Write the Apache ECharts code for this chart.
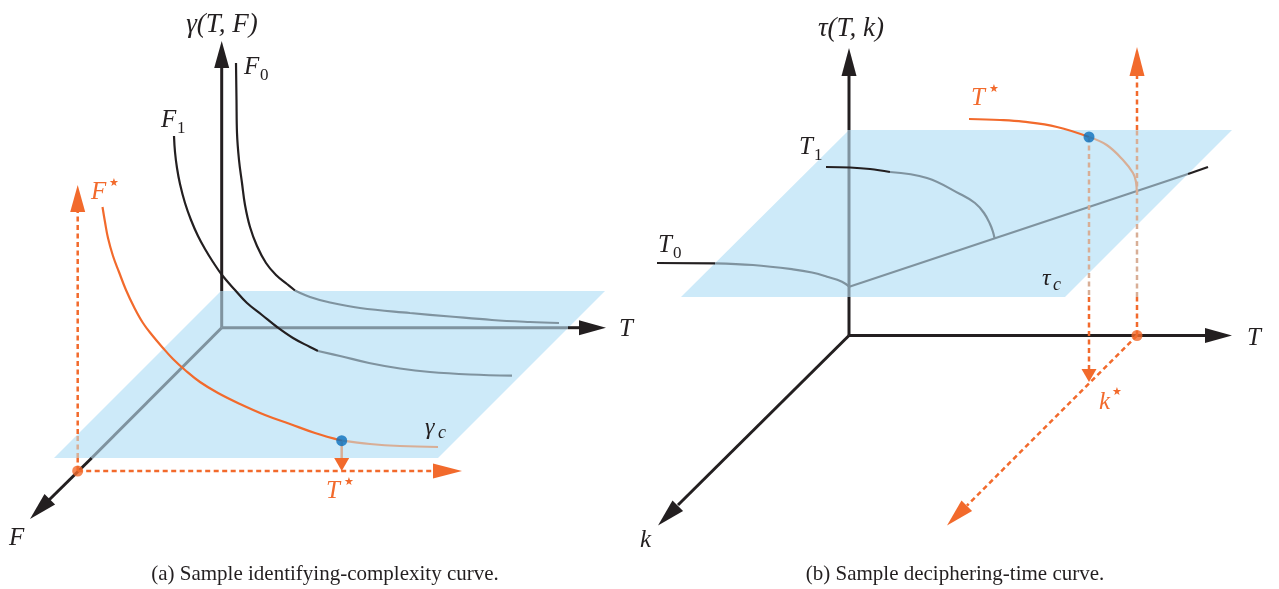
<!DOCTYPE html>
<html>
<head>
<meta charset="utf-8">
<script src="https://cdn.jsdelivr.net/npm/echarts@6/dist/echarts.min.js"></script>
<style>
html, body { margin: 0; padding: 0; background: #fff; }
#main { width: 1279px; height: 589px; }
</style>
</head>
<body>
<div id="main"></div>
<script>
// colours
var BLACK = '#231f20', GRAY = '#7f939f', PLANE = '#cdeaf9';
var ORANGE = '#f26a2c', TAN = '#d8ae96', BLUE = '#0a6fbd';

// ---- panel (a): identifying complexity ----
var planeA = [[221, 291], [605, 291], [438, 458], [54, 458]];
var axisGammaGray = [[221.7, 327.7], [221.7, 291]];
var axisGammaBlack = [[221.7, 291], [221.7, 67]];
var axisTaGray = [[221.7, 327.7], [568, 327.7]];
var axisTaBlack = [[568, 327.7], [580, 327.7]];
var axisFGray = [[221.7, 327.7], [91.7, 458]];
var axisFBlack = [[91.7, 458], [49, 500]];
var curveF0Black = [[236, 63], [236.5, 100], [237, 133], [239, 160], [242, 183], [245, 205], [250, 227], [257, 246], [266, 263], [276, 275], [287, 284], [295, 290.5]];
var curveF0Gray = [[295, 290.5], [310, 297], [328, 302], [360, 308], [410, 313], [450, 316.5], [492, 320], [530, 322], [559, 323]];
var curveF1Black = [[174, 136], [175, 152], [177, 168], [180, 184], [185, 203], [191, 220], [198, 236], [205, 249], [213, 262], [222, 275], [235, 290], [247, 303], [262, 315], [277, 327], [293, 338], [310, 347], [318, 351]];
var curveF1Gray = [[318, 351], [340, 356], [369, 363], [400, 368.5], [430, 372], [470, 374.5], [512, 375.7]];
var curveFStar = [[102.5, 207], [105, 222], [108, 238], [113, 256], [119, 272], [126, 290], [134, 307], [143, 323], [152, 335], [163, 348], [173, 359], [185, 370], [200, 382], [218, 393], [240, 404], [265, 415], [290, 424], [315, 433], [342, 440.7]];
var curveGammaC = [[342, 440.7], [370, 444], [400, 446], [438, 447]];
var dashFUpOrange = [[77.7, 434], [77.7, 212]];
var dashFUpTan = [[77.7, 458], [77.7, 434]];
var dashFUpLow = [[77.7, 471], [77.7, 458]];
var dashTStarA = [[77.7, 471], [433, 471]];
var dropTStarA = [[341.7, 441], [341.7, 458]];

// ---- panel (b): deciphering time ----
var planeB = [[849, 130], [1232, 130], [1065, 297], [681, 297]];
var axisTauLow = [[849, 335.5], [849, 297]];
var axisTauGray = [[849, 297], [849, 130]];
var axisTauHigh = [[849, 130], [849, 76]];
var axisTb = [[849, 335.5], [1206, 335.5]];
var axisK = [[849, 335.5], [678, 505]];
var curveT0Black = [[657, 263], [715, 263.3]];
var curveT0Gray = [[715, 263.3], [753, 265], [793, 269.3], [812, 272.5], [827, 276.7], [842, 281.7], [849.3, 286.7]];
var lineCusp = [[849.3, 286.7], [1188, 174]];
var lineCuspBlack = [[1188, 174], [1208, 167]];
var curveT1Black = [[826, 167], [850, 167.5], [870, 169], [890, 172]];
var curveT1Gray = [[890, 172], [927, 178], [960, 194], [975, 203], [984, 213], [990, 224], [993, 232], [994.5, 238]];
var curveTStar = [[969, 119], [1000, 120], [1023, 121.7], [1057, 127], [1089, 137]];
var curveTauC = [[1089, 137], [1106.7, 145], [1123, 160], [1133, 173], [1136, 182], [1136.7, 190]];
var dashUpLow = [[1137, 335.5], [1137, 297]];
var dashUpTan = [[1137, 297], [1137, 130]];
var dashUpHigh = [[1137, 130], [1137, 76]];
var dashDownTan = [[1089, 137], [1089, 297]];
var dashDownOrange = [[1089, 297], [1089, 369]];
var dashKStar = [[1137, 335.5], [967, 505.5]];

// arrowheads: [baseX, baseY, tipX, tipY]
var arrowsBlack = [
  [221.7, 68, 221.7, 41], [579, 327.7, 606, 327.7], [49.8, 499.2, 30, 519],
  [849, 76, 849, 48], [1205, 335.5, 1232, 335.5], [677.8, 505.7, 658, 525.5]
];
var arrowsOrange = [
  [77.7, 212, 77.7, 185], [433, 471, 462, 471], [341.7, 458, 341.7, 471],
  [1137, 76, 1137, 47], [1089, 369, 1089, 382], [966.8, 505.7, 947, 525.5]
];
var dotsOrange = [[77.7, 471], [1137, 335.5]];
var dotsBlue = [[341.7, 440.7], [1089, 137]];

// text: [text, x, y, colour, size, align]
var labels = [
  ['γ(T, F)', 222, 25, BLACK, 27, 'center'],
  ['F', 244, 67, BLACK, 25, 'left'], ['0', 260, 76, BLACK, 17, 'left'],
  ['F', 161, 120, BLACK, 25, 'left'], ['1', 177, 129, BLACK, 17, 'left'],
  ['F', 91, 192, ORANGE, 25, 'left'], ['★', 109, 183, ORANGE, 11, 'left'],
  ['T', 619, 329, BLACK, 25, 'left'],
  ['F', 9, 538, BLACK, 25, 'left'],
  ['γ', 425, 428, BLACK, 24, 'left'], ['c', 438, 433, BLACK, 18, 'left'],
  ['T', 326, 491, ORANGE, 25, 'left'], ['★', 344, 482, ORANGE, 11, 'left'],
  ['τ(T, k)', 851, 29, BLACK, 27, 'center'],
  ['T', 799, 147, BLACK, 25, 'left'], ['1', 814, 156, BLACK, 17, 'left'],
  ['T', 658, 245, BLACK, 25, 'left'], ['0', 673, 254, BLACK, 17, 'left'],
  ['T', 971, 98, ORANGE, 25, 'left'], ['★', 989, 89, ORANGE, 11, 'left'],
  ['τ', 1042, 279, BLACK, 24, 'left'], ['c', 1053, 285, BLACK, 18, 'left'],
  ['T', 1247, 338, BLACK, 25, 'left'],
  ['k', 640, 540, BLACK, 25, 'left'],
  ['k', 1099, 402, ORANGE, 25, 'left'], ['★', 1112, 392, ORANGE, 11, 'left']
];
var captions = [
  ['(a) Sample identifying-complexity curve.', 325, 574],
  ['(b) Sample deciphering-time curve.', 955, 574]
];

function seg(pts, color, width, dashed, smooth) {
  return {
    type: 'line', data: pts, smooth: smooth ? 0.4 : false, symbol: 'none',
    silent: true, z: 3,
    lineStyle: { color: color, width: width, type: dashed ? [5, 3.5] : 'solid', cap: 'butt' }
  };
}

function arrowSeries(list, color) {
  return {
    type: 'custom', silent: true, z: 5, data: list,
    renderItem: function (params, api) {
      var b = api.coord([api.value(0), api.value(1)]);
      var t = api.coord([api.value(2), api.value(3)]);
      var dx = t[0] - b[0], dy = t[1] - b[1], L = Math.sqrt(dx * dx + dy * dy);
      var nx = -dy / L * 7.5, ny = dx / L * 7.5;
      return {
        type: 'polygon',
        shape: { points: [t, [b[0] + nx, b[1] + ny], [b[0] - nx, b[1] - ny]] },
        style: { fill: color }
      };
    }
  };
}

var planes = [planeA, planeB];
var series = [
  {
    type: 'custom', silent: true, z: 1,
    data: planes.map(function (p) { return [].concat.apply([], p); }),
    renderItem: function (params, api) {
      var pts = [];
      for (var i = 0; i < 4; i++) pts.push(api.coord([api.value(2 * i), api.value(2 * i + 1)]));
      return { type: 'polygon', shape: { points: pts }, style: { fill: PLANE } };
    }
  },
  // panel a
  seg(axisGammaGray, GRAY, 3), seg(axisGammaBlack, BLACK, 3),
  seg(axisTaGray, GRAY, 3), seg(axisTaBlack, BLACK, 3),
  seg(axisFGray, GRAY, 3), seg(axisFBlack, BLACK, 3),
  seg(curveF0Black, BLACK, 2.2, false, true), seg(curveF0Gray, GRAY, 2.2, false, true),
  seg(curveF1Black, BLACK, 2.2, false, true), seg(curveF1Gray, GRAY, 2.2, false, true),
  seg(curveFStar, ORANGE, 2.2, false, true), seg(curveGammaC, TAN, 2.2, false, true),
  seg(dashFUpOrange, ORANGE, 2.5, true), seg(dashFUpTan, TAN, 2.5, true), seg(dashFUpLow, ORANGE, 2.5, true),
  seg(dashTStarA, ORANGE, 2.5, true), seg(dropTStarA, TAN, 2.5),
  // panel b
  seg(axisTauLow, BLACK, 3), seg(axisTauGray, GRAY, 3), seg(axisTauHigh, BLACK, 3),
  seg(axisTb, BLACK, 3), seg(axisK, BLACK, 3),
  seg(curveT0Black, BLACK, 2.2), seg(curveT0Gray, GRAY, 2.2, false, true),
  seg(lineCusp, GRAY, 2.2), seg(lineCuspBlack, BLACK, 2.2),
  seg(curveT1Black, BLACK, 2.2, false, true), seg(curveT1Gray, GRAY, 2.2, false, true),
  seg(curveTStar, ORANGE, 2.2, false, true), seg(curveTauC, TAN, 2.2, false, true),
  seg(dashUpLow, ORANGE, 2.5, true), seg(dashUpTan, TAN, 2.5, true), seg(dashUpHigh, ORANGE, 2.5, true),
  seg(dashDownTan, TAN, 2.5, true), seg(dashDownOrange, ORANGE, 2.5, true),
  seg(dashKStar, ORANGE, 2.5, true),
  arrowSeries(arrowsBlack, BLACK), arrowSeries(arrowsOrange, ORANGE),
  { type: 'scatter', data: dotsOrange, symbolSize: 11, silent: true, z: 6, itemStyle: { color: ORANGE } },
  { type: 'scatter', data: dotsBlue, symbolSize: 11, silent: true, z: 6, itemStyle: { color: BLUE } }
];

var graphic = labels.map(function (l) {
  var isStar = l[0] === '★';
  return {
    type: 'text', x: l[1], y: l[2], z: 10, silent: true,
    style: {
      text: l[0], fill: l[3], fontSize: l[4], fontStyle: /^[0-9★]$/.test(l[0]) ? 'normal' : 'italic',
      fontFamily: isStar ? '"DejaVu Sans", sans-serif' : '"Liberation Serif", "DejaVu Serif", serif',
      align: l[5], textAlign: l[5], verticalAlign: 'middle', textVerticalAlign: 'middle'
    }
  };
}).concat(captions.map(function (c) {
  return {
    type: 'text', x: c[1], y: c[2], z: 10, silent: true,
    style: {
      text: c[0], fill: BLACK, fontSize: 21, fontFamily: '"Liberation Serif", serif',
      align: 'center', textAlign: 'center', verticalAlign: 'middle', textVerticalAlign: 'middle'
    }
  };
}));

var myChart = echarts.init(document.getElementById('main'));
var option = {
  animation: false,
  grid: { left: 0, right: 0, top: 0, bottom: 0 },
  xAxis: { type: 'value', min: 0, max: 1279, show: false },
  yAxis: { type: 'value', min: 0, max: 589, inverse: true, show: false },
  series: series,
  graphic: graphic
};
myChart.setOption(option);
</script>
</body>
</html>
